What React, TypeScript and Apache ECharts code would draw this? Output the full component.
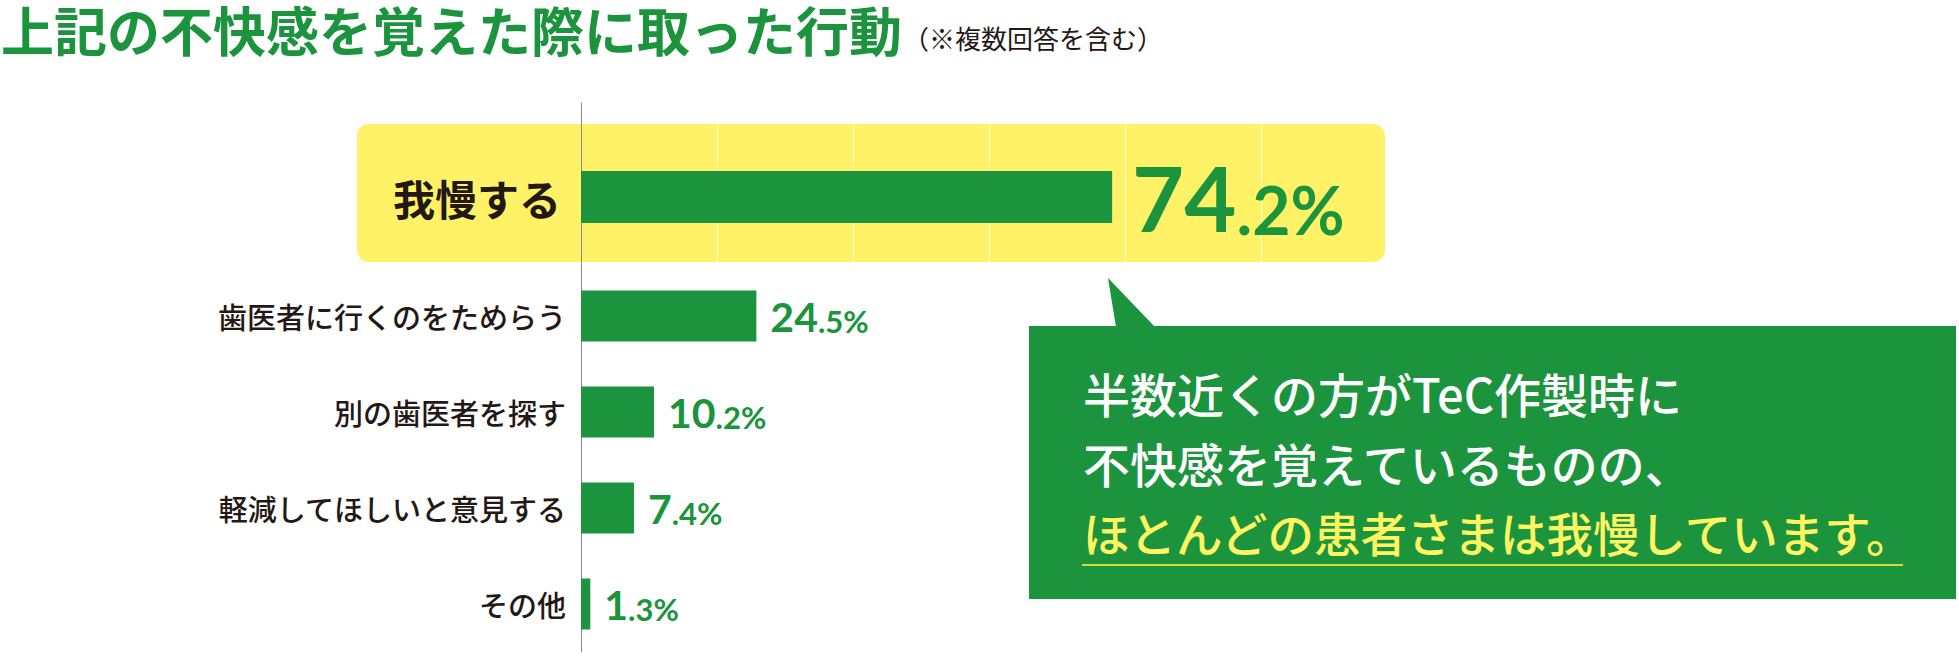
import * as echarts from "echarts"
import { useEffect, useRef } from "react"

const titleText = "上記の不快感を覚えた際に取った行動"
const subtitleText = "（※複数回答を含む）"
const topCategories = ["我慢する"]
const topValues = [74.2]
const categories = ["歯医者に行くのをためらう", "別の歯医者を探す", "軽減してほしいと意見する", "その他"]
const values = [24.5, 10.2, 7.4, 1.3]
const noteLines = ["半数近くの方がTeC作製時に", "不快感を覚えているものの、"]
const noteHighlight = "ほとんどの患者さまは我慢しています。"

const green = "#1b943d"
const yellow = "#fff266"
const dark = "#231815"
const jp = '"Noto Sans CJK JP", sans-serif'
const num = 'Lato, "Noto Sans", sans-serif'

// 24.5 -> {a|24}{b|.5%}
const splitValue = (v: number) => {
  const [i, d] = v.toFixed(1).split(".")
  return `{a|${i}}{b|.${d}%}`
}

export default function App() {
  const ref = useRef<HTMLDivElement>(null)

  useEffect(() => {
    if (!ref.current) return
    const chart = echarts.init(ref.current, null, { renderer: "svg" })

    const option: echarts.EChartsOption = {
      animation: false,
      grid: [
        { left: 581, right: 562, top: 103, height: 188 },
        { left: 581, right: 562, top: 268, height: 384 },
      ],
      xAxis: [
        {
          gridIndex: 0,
          type: "value",
          min: 0,
          max: 114,
          interval: 19,
          axisLine: { show: false },
          axisTick: { show: false },
          axisLabel: { show: false },
          splitLine: { show: true, lineStyle: { color: "rgba(255,255,255,0.75)", width: 1 } },
        },
        { gridIndex: 1, type: "value", min: 0, max: 114, show: false, splitLine: { show: false } },
      ],
      yAxis: [
        {
          gridIndex: 0,
          type: "category",
          data: topCategories,
          inverse: true,
          axisLine: { lineStyle: { color: "#8a8a8a", width: 1 } },
          axisTick: { show: false },
          axisLabel: { color: dark, fontSize: 42, fontWeight: "bold", fontFamily: jp, margin: 20 },
        },
        {
          gridIndex: 1,
          type: "category",
          data: categories,
          inverse: true,
          axisLine: { lineStyle: { color: "#8a8a8a", width: 1 } },
          axisTick: { show: false },
          axisLabel: { color: dark, fontSize: 29, fontWeight: 500, fontFamily: jp, margin: 15 },
        },
      ],
      series: [
        {
          type: "bar",
          xAxisIndex: 0,
          yAxisIndex: 0,
          data: topValues,
          barWidth: 52,
          itemStyle: { color: green },
          label: {
            show: true,
            position: "right",
            distance: 20,
            color: green,
            fontFamily: num,
            fontWeight: "bold",
            formatter: (p: any) => splitValue(p.value),
            rich: {
              a: { fontSize: 90, fontWeight: "bold", fontFamily: num, color: green, verticalAlign: "bottom", lineHeight: 90 },
              b: { fontSize: 66, fontWeight: "bold", fontFamily: num, color: green, verticalAlign: "bottom", lineHeight: 75 },
            },
          },
        },
        {
          type: "bar",
          xAxisIndex: 1,
          yAxisIndex: 1,
          data: values,
          barWidth: 51,
          itemStyle: { color: green },
          label: {
            show: true,
            position: "right",
            distance: 14,
            color: green,
            fontFamily: num,
            fontWeight: "bold",
            formatter: (p: any) => splitValue(p.value),
            rich: {
              a: { fontSize: 41, fontWeight: "bold", fontFamily: num, color: green, verticalAlign: "bottom", lineHeight: 41 },
              b: { fontSize: 31, fontWeight: "bold", fontFamily: num, color: green, verticalAlign: "bottom", lineHeight: 35 },
            },
          },
        },
      ],
      graphic: [
        // highlight box behind the top row
        {
          type: "rect",
          z: -1,
          shape: { x: 357, y: 124, width: 1028, height: 138, r: 12 },
          style: { fill: yellow },
        },
        {
          type: "text",
          x: 1,
          y: 2,
          style: {
            text: titleText,
            fontSize: 53,
            fontWeight: "bold",
            fontFamily: jp,
            fill: green,
            align: "left",
            verticalAlign: "top",
          },
        },
        {
          type: "text",
          x: 903,
          y: 37,
          style: {
            text: subtitleText,
            fontSize: 26,
            fontFamily: jp,
            fill: dark,
            align: "left",
            verticalAlign: "middle",
          },
        },
        // speech bubble
        {
          type: "polygon",
          z: 10,
          shape: { points: [[1108, 278], [1116, 327], [1155, 327]] },
          style: { fill: green },
        },
        {
          type: "rect",
          z: 10,
          shape: { x: 1029, y: 326, width: 927, height: 273 },
          style: { fill: green },
        },
        ...noteLines.map((t, i) => ({
          type: "text" as const,
          z: 11,
          x: 1083,
          y: 392 + i * 70,
          style: {
            text: t,
            fontSize: 47,
            fontWeight: 500,
            fontFamily: jp,
            fill: "#ffffff",
            align: "left",
            verticalAlign: "middle",
          },
        })),
        {
          type: "text",
          z: 11,
          x: 1083,
          y: 531,
          style: {
            text: noteHighlight,
            fontSize: 46.5,
            fontWeight: 500,
            fontFamily: jp,
            fill: "#fff462",
            align: "left",
            verticalAlign: "middle",
          },
        },
        {
          type: "line",
          z: 11,
          shape: { x1: 1082, y1: 565, x2: 1903, y2: 565 },
          style: { stroke: "#d4dc3c", lineWidth: 2 },
        },
      ],
    }

    chart.setOption(option)
    return () => chart.dispose()
  }, [])

  return (
    <div
      ref={ref}
      style={{ position: "fixed", left: 0, top: 0, width: 1959, height: 658, background: "#ffffff" }}
    />
  )
}
